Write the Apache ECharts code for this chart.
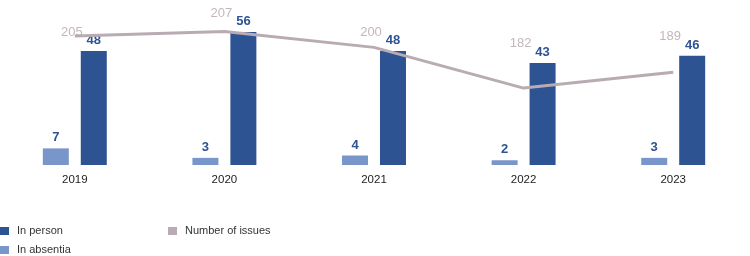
<!DOCTYPE html>
<html>
<head>
<meta charset="utf-8">
<script src="https://cdn.jsdelivr.net/npm/echarts@6/dist/echarts.min.js"></script>
<style>
html,body{margin:0;padding:0;background:#fff;}
#chart{width:750px;height:256px;}
</style>
</head>
<body>
<div id="chart"></div>
<script>
var years = ['2019', '2020', '2021', '2022', '2023'];
var inPerson = [48, 56, 48, 43, 46];
var inAbsentia = [7, 3, 4, 2, 3];
var issues = [205, 207, 200, 182, 189];

var FONT = '"Liberation Sans", Arial, sans-serif';
var C_PERSON = '#2e5393';
var C_ABS = '#7896c9';
var C_LINE = '#b9abb3';

function legendAt(name, left, top) {
  return {
    data: [name],
    orient: 'horizontal',
    left: left, top: top,
    icon: 'rect', itemWidth: 9, itemHeight: 8,
    padding: 0,
    textStyle: {fontFamily: FONT, fontSize: 11, color: '#333', lineHeight: 14, padding: [0, 0, 0, 3]}
  };
}

var chart = echarts.init(document.getElementById('chart'), null, {renderer: 'canvas'});
chart.setOption({
  animation: false,
  backgroundColor: '#ffffff',
  textStyle: {fontFamily: FONT},
  grid: {left: -2, right: 2, top: 22.5, bottom: 91, containLabel: false},
  legend: [
    legendAt('In person', 0, 224),
    legendAt('In absentia', 0, 243),
    legendAt('Number of issues', 168, 224)
  ],
  xAxis: {
    type: 'category',
    data: years,
    axisLine: {show: false},
    axisTick: {show: false},
    axisLabel: {color: '#222', fontSize: 11.5, fontFamily: FONT, margin: 9}
  },
  yAxis: [{
    type: 'value', min: 0, max: 60, show: false
  }, {
    type: 'value', min: 148, max: 211, show: false
  }],
  series: [{
    name: 'In absentia',
    type: 'bar',
    data: inAbsentia,
    barWidth: 26,
    barGap: '46%',
    itemStyle: {color: C_ABS},
    label: {show: true, position: 'top', distance: 4, color: C_PERSON, fontWeight: 'bold', fontSize: 13, fontFamily: FONT}
  }, {
    name: 'In person',
    type: 'bar',
    data: inPerson,
    barWidth: 26,
    barGap: '46%',
    itemStyle: {color: C_PERSON},
    label: {show: true, position: 'top', distance: 4, color: C_PERSON, fontWeight: 'bold', fontSize: 13, fontFamily: FONT}
  }, {
    name: 'Number of issues',
    type: 'line',
    yAxisIndex: 1,
    data: issues,
    symbol: 'none',
    z: 5,
    lineStyle: {color: C_LINE, width: 3},
    itemStyle: {color: C_LINE}
  }, {
    name: 'issueLabels',
    type: 'scatter',
    yAxisIndex: 0,
    data: inPerson,
    symbolSize: 0,
    silent: true,
    z: 6,
    label: {
      show: true,
      position: 'inside',
      offset: [-3, -19],
      color: '#b3a4ac',
      fontSize: 13,
      fontFamily: FONT,
      formatter: function (p) { return String(issues[p.dataIndex]); }
    }
  }]
});
</script>
</body>
</html>
